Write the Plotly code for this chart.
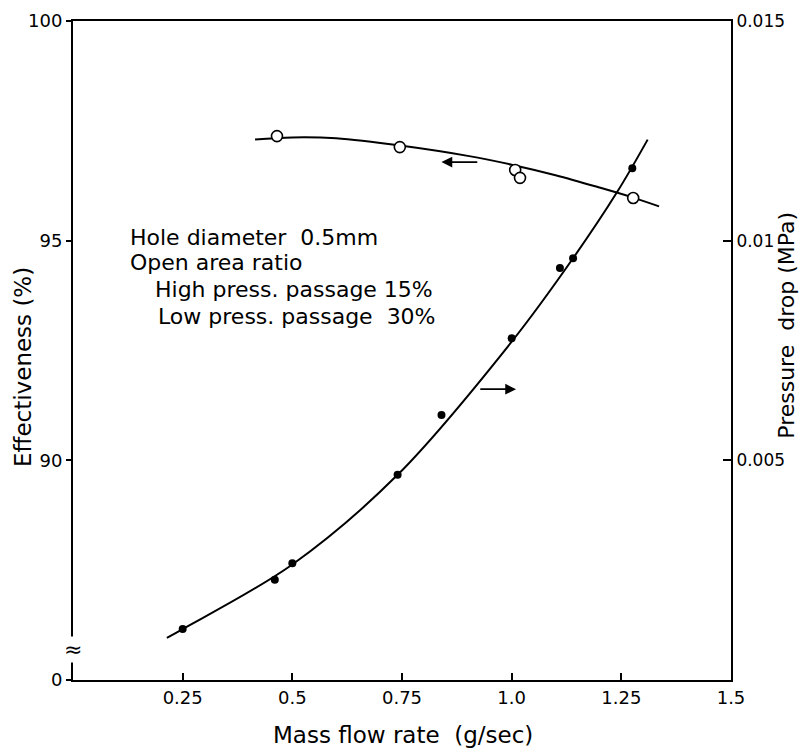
import plotly.graph_objects as go

# ---- data ----
flow_pd = [0.25, 0.46, 0.50, 0.74, 0.84, 1.00, 1.11, 1.14, 1.275]
pressure_drop = [0.00116, 0.00228, 0.00266, 0.00467, 0.00603, 0.00778, 0.00938, 0.0096, 0.01165]

flow_eff = [0.465, 0.745, 1.008, 1.019, 1.277]
effectiveness = [97.38, 97.13, 96.61, 96.43, 95.97]

curve_pd_x = [0.214, 0.25, 0.5, 0.74, 1.0, 1.14, 1.24, 1.31]
curve_pd_y = [0.00096, 0.00116, 0.00263, 0.00467, 0.0077, 0.0096, 0.0111, 0.0123]

curve_eff_x = [0.415, 0.5, 0.6, 0.75, 0.9, 1.0, 1.1, 1.2, 1.277, 1.336]
curve_eff_y = [97.30, 97.35, 97.33, 97.16, 96.93, 96.73, 96.49, 96.21, 95.98, 95.78]

x_tickvals = [0.25, 0.5, 0.75, 1.0, 1.25, 1.5]
x_ticktext = ["0.25", "0.5", "0.75", "1.0", "1.25", "1.5"]
left_tickvals = [85, 90, 95, 100]
left_ticktext = ["0", "90", "95", "100"]
right_tickvals = [0.005, 0.01, 0.015]
right_ticktext = ["0.005", "0.01", "0.015"]

FONT = "DejaVu Sans"
INK = "black"

fig = go.Figure()

fig.add_trace(go.Scatter(x=curve_eff_x, y=curve_eff_y, mode="lines",
                         line=dict(color=INK, width=2, shape="spline", smoothing=1.0),
                         showlegend=False, hoverinfo="skip"))
fig.add_trace(go.Scatter(x=flow_eff, y=effectiveness, mode="markers",
                         marker=dict(symbol="circle", size=11, color="white",
                                     line=dict(color=INK, width=1.6)),
                         showlegend=False))
fig.add_trace(go.Scatter(x=curve_pd_x, y=curve_pd_y, mode="lines", yaxis="y2",
                         line=dict(color=INK, width=2, shape="spline", smoothing=1.0),
                         showlegend=False, hoverinfo="skip"))
fig.add_trace(go.Scatter(x=flow_pd, y=pressure_drop, mode="markers", yaxis="y2",
                         marker=dict(symbol="circle", size=8, color=INK),
                         showlegend=False))

TXT = dict(family=FONT, size=22, color=INK)
TTL = dict(family=FONT, size=23, color=INK)
annotations = [
    # arrows
    dict(x=0.84, y=96.79, ax=0.925, ay=96.79, xref="x", yref="y", axref="x", ayref="y",
         showarrow=True, arrowhead=2, arrowsize=1.2, arrowwidth=1.8, arrowcolor=INK, text=""),
    dict(x=1.01, y=0.00662, ax=0.925, ay=0.00662, xref="x", yref="y2", axref="x", ayref="y2",
         showarrow=True, arrowhead=2, arrowsize=1.2, arrowwidth=1.8, arrowcolor=INK, text=""),
    # text block
    dict(x=0.084, y=0.672, xref="paper", yref="paper", xanchor="left", yanchor="middle",
         text="Hole diameter  0.5mm", showarrow=False, font=TXT),
    dict(x=0.084, y=0.633, xref="paper", yref="paper", xanchor="left", yanchor="middle",
         text="Open area ratio", showarrow=False, font=TXT),
    dict(x=0.1216, y=0.592, xref="paper", yref="paper", xanchor="left", yanchor="middle",
         text="High press. passage 15%", showarrow=False, font=TXT),
    dict(x=0.126, y=0.551, xref="paper", yref="paper", xanchor="left", yanchor="middle",
         text="Low press. passage  30%", showarrow=False, font=TXT),
    # axis titles
    dict(x=-0.076, y=0.475, xref="paper", yref="paper", xanchor="center", yanchor="middle",
         text="Effectiveness (%)", textangle=-90, showarrow=False, font=TTL),
    dict(x=1.085, y=0.539, xref="paper", yref="paper", xanchor="center", yanchor="middle",
         text="Pressure  drop (MPa)", textangle=-90, showarrow=False,
         font=dict(family=FONT, size=22, color=INK)),
    dict(x=0.5015, y=-0.0835, xref="paper", yref="paper", xanchor="center", yanchor="middle",
         text="Mass flow rate  (g/sec)", showarrow=False, font=TTL),
    # axis break mark
    dict(x=0, y=85.7, xref="paper", yref="y", xanchor="center", yanchor="middle",
         text="≈", showarrow=False, font=dict(family=FONT, size=22, color=INK),
         bgcolor="white", borderpad=0),
]

fig.update_layout(
    width=807, height=752,
    margin=dict(l=73, r=76, t=21, b=72),
    paper_bgcolor="white", plot_bgcolor="white",
    font=dict(family=FONT, size=18, color=INK),
    showlegend=False,
    xaxis=dict(range=[0, 1.5], tickvals=x_tickvals, ticktext=x_ticktext,
               showgrid=False, zeroline=False, showline=True, linecolor=INK, linewidth=2,
               mirror=True, ticks="inside", ticklen=7, tickwidth=1.5, tickcolor=INK,
               tickfont=dict(family=FONT, size=18), automargin=False),
    yaxis=dict(range=[85, 100], tickvals=left_tickvals, ticktext=left_ticktext,
               showgrid=False, zeroline=False, showline=True, linecolor=INK, linewidth=2,
               ticks="outside", ticklen=5, tickwidth=1.5, tickcolor=INK,
               tickfont=dict(family=FONT, size=18), automargin=False),
    yaxis2=dict(range=[0, 0.015], tickvals=right_tickvals, ticktext=right_ticktext,
                overlaying="y", side="right",
                showgrid=False, zeroline=False, showline=True, linecolor=INK, linewidth=2,
                ticks="inside", ticklen=8, tickwidth=1.5, tickcolor=INK,
                tickfont=dict(family=FONT, size=17), automargin=False),
    annotations=annotations,
)

fig.write_html("out.html", config={"displayModeBar": False},
               post_script="document.body.style.margin='0px';document.body.style.overflow='hidden';")
